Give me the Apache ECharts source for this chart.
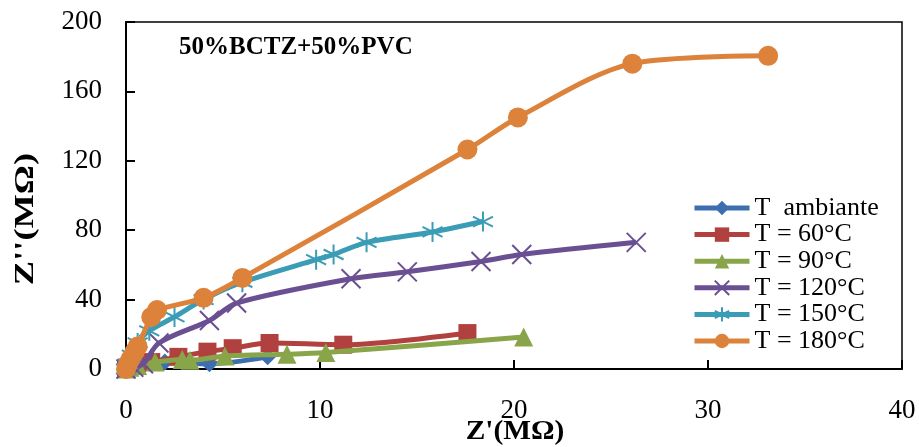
<!DOCTYPE html>
<html>
<head>
<meta charset="utf-8">
<script src="https://cdn.jsdelivr.net/npm/echarts@6/dist/echarts.min.js"></script>
<style>
  html, body { margin: 0; padding: 0; background: #fff; }
  #chart { width: 919px; height: 447px; }
</style>
</head>
<body>
<div id="chart"></div>
<script>
// Nyquist plot data: Z' (MΩ) and Z'' (MΩ) per temperature
const ambX = [0, 0.2, 0.5, 1.0, 2.0, 4.3, 7.3];
const ambY = [0, 1, 2, 3, 4, 3, 7];

const t60X = [0, 0.3, 1.3, 2.7, 4.2, 5.5, 7.4, 11.2, 17.6];
const t60Y = [0, 2, 4, 7, 10, 12, 15, 14, 20.7];

const t90X = [0, 0.2, 0.6, 1.5, 2.9, 3.3, 5.1, 8.3, 10.3, 20.5];
const t90Y = [0, 1, 2, 4, 5.5, 5, 7.5, 8.5, 9.5, 18.4];

const t120X = [0, 0.4, 0.9, 1.7, 4.3, 5.7, 11.6, 14.5, 18.3, 20.4, 26.3];
const t120Y = [0, 1, 3, 15, 28, 38, 52, 56, 62, 66, 73];

const t150X = [0, 0.1, 0.3, 0.6, 1.2, 2.5, 4.0, 6.0, 9.8, 10.7, 12.4, 15.8, 18.4];
const t150Y = [0, 3, 8, 15, 22, 30, 40, 50, 63, 66, 73, 79, 85];

const t180X = [0, 0.1, 0.25, 0.45, 0.6, 1.3, 1.6, 4.0, 6.0, 17.6, 20.2, 26.1, 33.1];
const t180Y = [0, 3, 6, 10, 13, 30, 34, 41, 52.5, 126.5, 145, 176, 180.5];

const seriesNames = ['T  ambiante', 'T = 60°C', 'T = 90°C', 'T = 120°C', 'T = 150°C', 'T = 180°C'];
const xTicks = [0, 10, 20, 30, 40];
const yTicks = [0, 40, 80, 120, 160, 200];

const colors = ['#3d6fb0', '#b0413e', '#89a54a', '#6a5092', '#3b9cb6', '#dc823b'];
const crossPath = 'path://M0,0L10,10M10,0L0,10';
const starPath = 'path://M5,0L5,10M0,2.5L10,7.5M10,2.5L0,7.5';
const serif = 'Liberation Serif';

function pairs(xs, ys) { return xs.map((x, i) => [x, ys[i]]); }

const defs = [
  { x: ambX, y: ambY, symbol: 'diamond', size: 17, stroke: false },
  { x: t60X, y: t60Y, symbol: 'rect', size: 18, stroke: false },
  { x: t90X, y: t90Y, symbol: 'triangle', size: 19, stroke: false },
  { x: t120X, y: t120Y, symbol: crossPath, size: 19, stroke: true },
  { x: t150X, y: t150Y, symbol: starPath, size: 20, stroke: true },
  { x: t180X, y: t180Y, symbol: 'circle', size: 20, stroke: false }
];

const series = defs.map((d, i) => ({
  name: seriesNames[i],
  type: 'line',
  data: pairs(d.x, d.y),
  smooth: 0.3,
  symbol: d.symbol,
  symbolSize: d.size,
  showAllSymbol: true,
  lineStyle: { color: colors[i], width: 5 },
  itemStyle: d.stroke
    ? { color: colors[i], borderColor: colors[i], borderWidth: 2 }
    : { color: colors[i] },
  emphasis: { disabled: true },
  z: 2 + i
}));

const chart = echarts.init(document.getElementById('chart'), null, { renderer: 'canvas' });
chart.setOption({
  animation: false,
  backgroundColor: '#fff',
  grid: {
    left: 126, right: 17, top: 22, bottom: 78,
    show: true, borderColor: '#000', borderWidth: 1.5, backgroundColor: 'transparent'
  },
  title: {
    text: '50%BCTZ+50%PVC',
    left: 174, top: 30,
    textStyle: { fontFamily: serif, fontWeight: 'bold', fontSize: 25, color: '#000' }
  },
  legend: {
    data: seriesNames,
    orient: 'vertical',
    left: 687, top: 190,
    itemWidth: 55, itemHeight: 18, itemGap: 0.6,
    lineStyle: { width: 5 },
    textStyle: { fontFamily: serif, fontSize: 26, lineHeight: 26, color: '#000' }
  },
  // axis titles drawn as text, stretched along their length
  graphic: [
    {
      type: 'text', x: 515, y: 432, scaleX: 1.05,
      style: { text: "Z'(MΩ)", fill: '#000', font: 'bold 28px "Liberation Serif"', align: 'center', verticalAlign: 'middle' }
    },
    {
      type: 'text', x: 26, y: 219, rotation: Math.PI / 2, scaleX: 1.3,
      style: { text: "Z''(MΩ)", fill: '#000', font: 'bold 28px "Liberation Serif"', align: 'center', verticalAlign: 'middle' }
    }
  ],
  xAxis: {
    type: 'value', min: xTicks[0], max: xTicks[xTicks.length - 1], interval: 10,
    axisLine: { lineStyle: { color: '#000', width: 2 } },
    axisTick: { inside: true, length: 9, lineStyle: { color: '#000', width: 2 } },
    axisLabel: { fontFamily: serif, fontSize: 27, color: '#000', margin: 28 },
    splitLine: { show: false }
  },
  yAxis: {
    type: 'value', min: yTicks[0], max: yTicks[yTicks.length - 1], interval: 40,
    axisLine: { show: true, lineStyle: { color: '#000', width: 2 } },
    axisTick: { show: true, inside: true, length: 9, lineStyle: { color: '#000', width: 2 } },
    axisLabel: { fontFamily: serif, fontSize: 27, color: '#000', margin: 24 },
    splitLine: { show: false }
  },
  series: series
});
</script>
</body>
</html>
